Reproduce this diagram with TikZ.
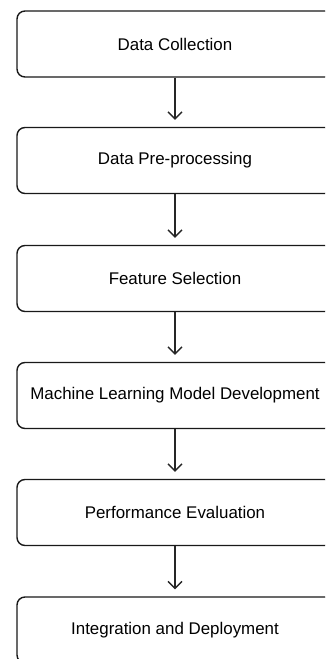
\documentclass[tikz,border=0pt]{standalone}
\usepackage{fontspec}
\setmainfont{Liberation Sans}
\usetikzlibrary{arrows.meta}
\begin{document}
\begin{tikzpicture}[x=1pt,y=1pt,
  stepbox/.style={draw=black!90, line width=1.4pt, rounded corners=8pt,
    minimum width=316pt, minimum height=66pt, inner sep=0pt,
    font=\fontsize{16.9}{19}\selectfont, text=black},
  flow/.style={draw=black!85, line width=1.3pt,
    -{Straight Barb[length=7pt,width=14pt,line width=1.3pt]}, shorten >=7pt}]
\useasboundingbox (0,0) rectangle (325,-659);
\clip (0,0) rectangle (325,-659);
\node[stepbox] (a) at (175,-44) {Data Collection};
\node[stepbox] (b) at (175,-160.5) {Data Pre-processing};
\node[stepbox] (c) at (175,-278.5) {Feature Selection};
\node[stepbox] (d) at (175,-395.5) {Machine Learning Model Development};
\node[stepbox] (e) at (175,-512.5) {Performance Evaluation};
\node[stepbox] (f) at (175,-630) {Integration and Deployment};
\draw[flow] (a) -- (b);
\draw[flow] (b) -- (c);
\draw[flow] (c) -- (d);
\draw[flow] (d) -- (e);
\draw[flow] (e) -- (f);
\end{tikzpicture}
\end{document}
